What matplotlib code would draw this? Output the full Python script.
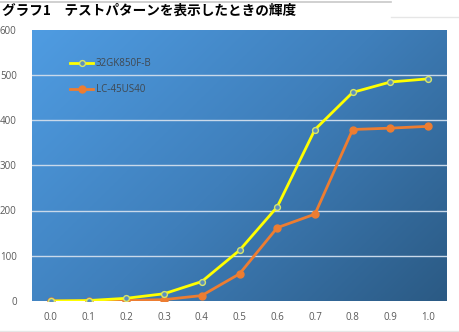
import numpy as np
import matplotlib
matplotlib.use("Agg")
import matplotlib.pyplot as plt
from matplotlib.colors import LinearSegmentedColormap

plt.rcParams['font.family'] = ['Open Sans', 'DejaVu Sans']

categories = ["0.0", "0.1", "0.2", "0.3", "0.4", "0.5", "0.6", "0.7", "0.8", "0.9", "1.0"]
series_a_name = "32GK850F-B"
series_a = [0, 1, 6, 16, 43, 112, 208, 379, 461, 484, 491]
series_b_name = "LC-45US40"
series_b = [0, 0, 1, 3, 12, 60, 162, 192, 379, 382, 386]
yticks = [0, 100, 200, 300, 400, 500, 600]
title = "グラフ1　テストパターンを表示したときの輝度"

W, H = 460, 332
fig = plt.figure(figsize=(W / 100, H / 100), dpi=100)
fig.patch.set_facecolor("white")

# decorative frame lines
fig.add_artist(plt.Line2D([0, 391 / W], [1 - 1.5 / H] * 2, color="#C8C8C8", lw=1.2))
fig.add_artist(plt.Line2D([391 / W, 1], [1 - 16.5 / H] * 2, color="#E6E6E6", lw=1.0))
fig.add_artist(plt.Line2D([0, 1], [1.5 / H] * 2, color="#E6E6E6", lw=1.0))

fig.text(2 / W, 1 - 10.5 / H, title, fontsize=9.8, fontweight="bold",
         family=['Noto Sans CJK JP', 'DejaVu Sans'], ha="left", va="center", color="black")

left, right, top, bottom = 32, 447, 29.5, 301
ax = fig.add_axes([left / W, (H - bottom) / H, (right - left) / W, (bottom - top) / H])

# gradient background
cmap = LinearSegmentedColormap.from_list("bg", ["#4F9CE2", "#3F7FBB", "#2B5A84"])
nx, ny = 200, 200
xx, yy = np.meshgrid(np.linspace(0, 1, nx), np.linspace(1, 0, ny))
grad = (xx * 0.6 + (1 - yy) * 0.4)
ax.imshow(grad, cmap=cmap, extent=[0, 1, 0, 1], transform=ax.transAxes,
          aspect="auto", zorder=0, interpolation="bicubic")

x = np.arange(len(categories))
ax.set_xlim(-0.5, len(categories) - 0.5)
ax.set_ylim(0, 600)
ax.set_yticks(yticks)
ax.set_xticks(x)
ax.set_xticklabels(categories)
for yv in yticks[1:-1]:
    ax.axhline(yv, color="#C9D9EA", lw=1.0, zorder=1)

ax.plot(x, series_a, color="#FFFF00", lw=2.0, marker="o", ms=4.2,
        mfc="#5B8FC0", mec="#D7E66A", mew=1.0, zorder=4, label=series_a_name)
ax.plot(x, series_b, color="#ED7D31", lw=2.0, marker="o", ms=5,
        mfc="#ED7D31", mec="#ED7D31", zorder=3, label=series_b_name)

for s in ax.spines.values():
    s.set_visible(False)
ax.tick_params(length=0, labelsize=7, colors="#595959")
ax.tick_params(axis="y", pad=11)
ax.tick_params(axis="x", pad=8)

leg = ax.legend(loc="upper left", bbox_to_anchor=(70 / W, 1 - 58 / H),
                bbox_transform=fig.transFigure, frameon=False, fontsize=7,
                handlelength=2.4, handletextpad=0.25, labelspacing=1.55,
                borderpad=0, borderaxespad=0)
for t in leg.get_texts():
    t.set_color("#404850")

fig.savefig("out.png", dpi=100, facecolor="white")
